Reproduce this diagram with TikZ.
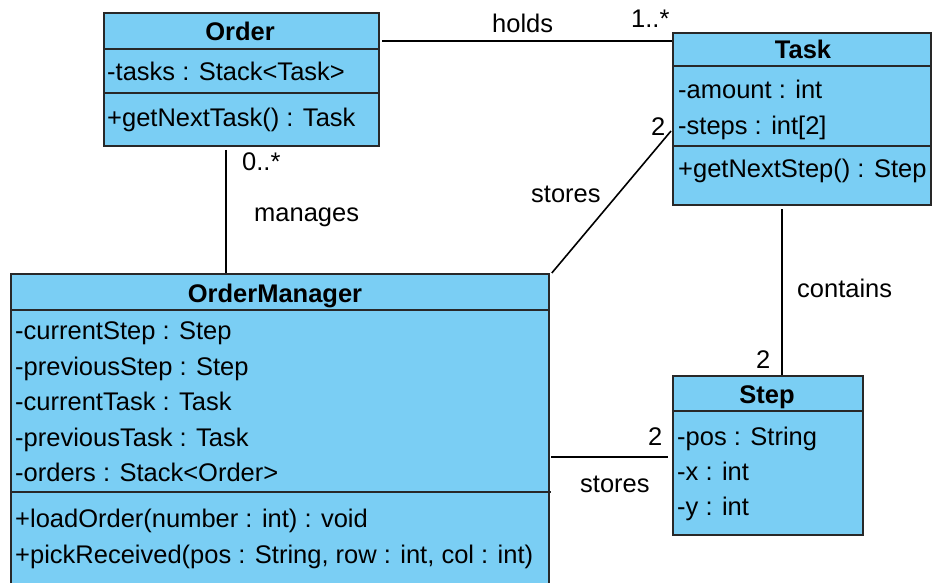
\documentclass[tikz,border=0pt]{standalone}
\usepackage{fontspec}
\setmainfont{Liberation Sans}
\definecolor{umlfill}{RGB}{122,206,244}
\definecolor{umlline}{RGB}{40,40,40}
\begin{document}
\begin{tikzpicture}[x=1pt,y=-1pt, font=\fontsize{25.5}{30}\selectfont,
 umlbox/.style={draw=umlline, line width=1.8pt, fill=umlfill, anchor=north west, inner sep=0pt},
 sep/.style={draw=umlline, line width=1.8pt},
 title/.style={font=\fontsize{25.5}{30}\selectfont\bfseries, inner sep=0pt, anchor=base},
 row/.style={anchor=base west, inner sep=0pt},
 conn/.style={draw=black, line width=1.6pt},
 lbl/.style={inner sep=0pt, anchor=base west}]
\useasboundingbox (0,0) rectangle (932,583);
\fill[white] (0,0) rectangle (932,583);

% Order
\node[umlbox, minimum width=275pt, minimum height=133pt] (order) at (103,12) {};
\draw[sep] (103,49) -- (378,49);
\draw[sep] (103,93) -- (378,93);
\node[title] (orderT) at (240,41) {Order};
\node[row] (order1) at (107,81) {-tasks : Stack<Task>};
\node[row] (order2) at (107,127) {+getNextTask() : Task};

% Task
\node[umlbox, minimum width=258pt, minimum height=172pt] (task) at (672,32) {};
\draw[sep] (672,66) -- (930,66);
\draw[sep] (672,146) -- (930,146);
\node[title] (taskT) at (803,59) {Task};
\node[row] (task1) at (678,99) {-amount : int};
\node[row] (task2) at (678,135) {-steps : int[2]};
\node[row] (task3) at (678,178) {+getNextStep() : Step};

% OrderManager
\node[umlbox, minimum width=538pt, minimum height=330pt] (om) at (10,273) {};
\draw[sep] (10,310) -- (548,310);
\draw[sep] (10,492) -- (551,492);
\node[title] (omT) at (275,302) {OrderManager};
\node[row] (om1) at (15,339) {-currentStep : Step};
\node[row] (om2) at (15,375) {-previousStep : Step};
\node[row] (om3) at (15,410) {-currentTask : Task};
\node[row] (om4) at (15,446) {-previousTask : Task};
\node[row] (om5) at (15,481) {-orders : Stack<Order>};
\node[row] (om6) at (15,527) {+loadOrder(number : int) : void};
\node[row] (om7) at (15,563) {+pickReceived(pos : String, row : int, col : int)};

% Step
\node[umlbox, minimum width=190pt, minimum height=159pt] (step) at (672,375) {};
\draw[sep] (672,411) -- (862,411);
\node[title] (stepT) at (767,403) {Step};
\node[row] (step1) at (677,445) {-pos : String};
\node[row] (step2) at (677,480) {-x : int};
\node[row] (step3) at (677,515) {-y : int};

% connectors
\coordinate (h1) at (382,41);
\draw[conn] (h1) -- (task.west |- h1);
\node[lbl] (holdsL) at (492,33) {holds};
\node[lbl] (holdsM) at (631,28) {1..*};

\coordinate (m1) at (226,150);
\draw[conn] (m1) -- (m1 |- om.north);
\node[lbl] (manM) at (242,171) {0..*};
\node[lbl] (manL) at (254,221) {manages};

\coordinate (s1) at (671,131);
\draw[conn] (s1) -- ([xshift=2pt]om.north east);
\node[lbl] (st1M) at (651,136) {2};
\node[lbl] (st1L) at (531,202) {stores};

\coordinate (c1) at (782,209);
\draw[conn] (c1) -- (c1 |- step.north);
\node[lbl] (conL) at (797,297) {contains};
\node[lbl] (conM) at (756,368) {2};

\coordinate (s2) at (551,457);
\coordinate (s2e) at (668,457);
\draw[conn] (s2) -- (s2e);
\node[lbl] (st2M) at (648,445) {2};
\node[lbl] (st2L) at (580,492) {stores};
\end{tikzpicture}
\end{document}
